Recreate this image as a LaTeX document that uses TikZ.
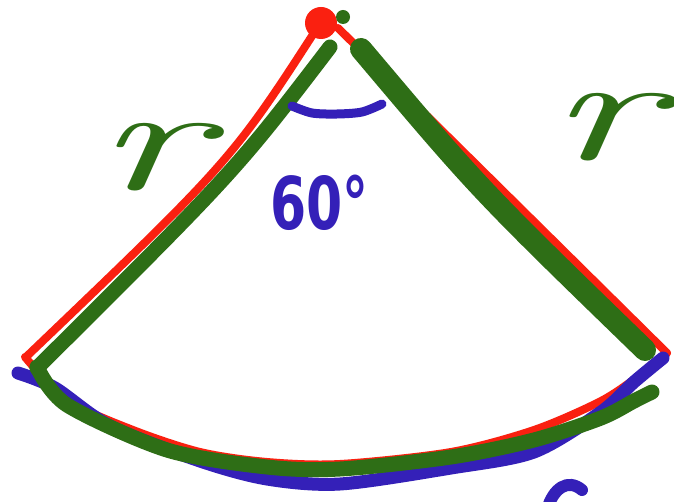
\documentclass[tikz,border=0pt]{standalone}
\usepackage{fontspec}
\newfontfamily\digitfont{DejaVu Sans}
\definecolor{pred}{RGB}{250,32,16}
\definecolor{pgreen}{RGB}{46,110,22}
\definecolor{pblue}{RGB}{52,32,184}
\begin{document}
\begin{tikzpicture}[x=1pt,y=-1pt,
  redstroke/.style={pred,line width=8pt,line cap=round,line join=round},
  greenstroke/.style={pgreen,line width=15pt,line cap=round,line join=round},
  bluestroke/.style={pblue,line width=13pt,line cap=round,line join=round},
  lbl/.style={inner sep=0pt,outer sep=0pt},
]
\useasboundingbox (0,0) rectangle (674,502);
\fill[white] (0,0) rectangle (674,502);
\clip (0,0) rectangle (674,502);
% red sketch
\draw[redstroke] (321,22) .. controls (232,160) .. (26,357);
\draw[redstroke] (338,28) -- (667,353);
\draw[redstroke] plot[smooth] coordinates {(25,357) (67,400) (133,430) (200,452) (267,462) (340,464) (451,452) (534,430) (601,401) (640,375) (667,353)};
% blue arc
\draw[bluestroke] plot[smooth] coordinates {(18,373) (55,388) (110,426) (200,461) (267,479) (340,484) (451,468) (534,452) (601,412) (634,382) (663,358)};
% green sketch
\draw[greenstroke] plot[smooth] coordinates {(37,367) (67,405) (167,450) (267,467) (340,469) (451,457) (534,440) (601,418) (634,401) (652,392)};
\draw[greenstroke] (330,47) .. controls (236,170) .. (37,368);
\draw[greenstroke,line width=22pt] (361,49) .. controls (480,190) .. (645,350);
% apex dots
\fill[pred] (321,23) circle (16);
\fill[pgreen] (343,17) circle (7);
% angle mark
\draw[pblue,line width=9pt,line cap=round] plot[smooth] coordinates {(292,106) (312,113) (337,114) (362,112) (382,104)};
% labels
\node[lbl,pblue,anchor=base west] (ang) at (270,230) {\digitfont\fontsize{52}{52}\selectfont\bfseries\scalebox{1}[1.4]{60°}};
\node[lbl,pgreen,anchor=base] (rleft) at (150,190) {\fontsize{150}{150}\selectfont\itshape\scalebox{1.8}[1]{r}};
\node[lbl,pgreen,anchor=base] (rright) at (603,160) {\fontsize{150}{150}\selectfont\itshape\scalebox{1.8}[1]{r}};
% partial label at the bottom edge
\draw[pblue,line width=12pt,line cap=round] (582,490) .. controls (568,478) and (553,488) .. (547,510);
\end{tikzpicture}
\end{document}
